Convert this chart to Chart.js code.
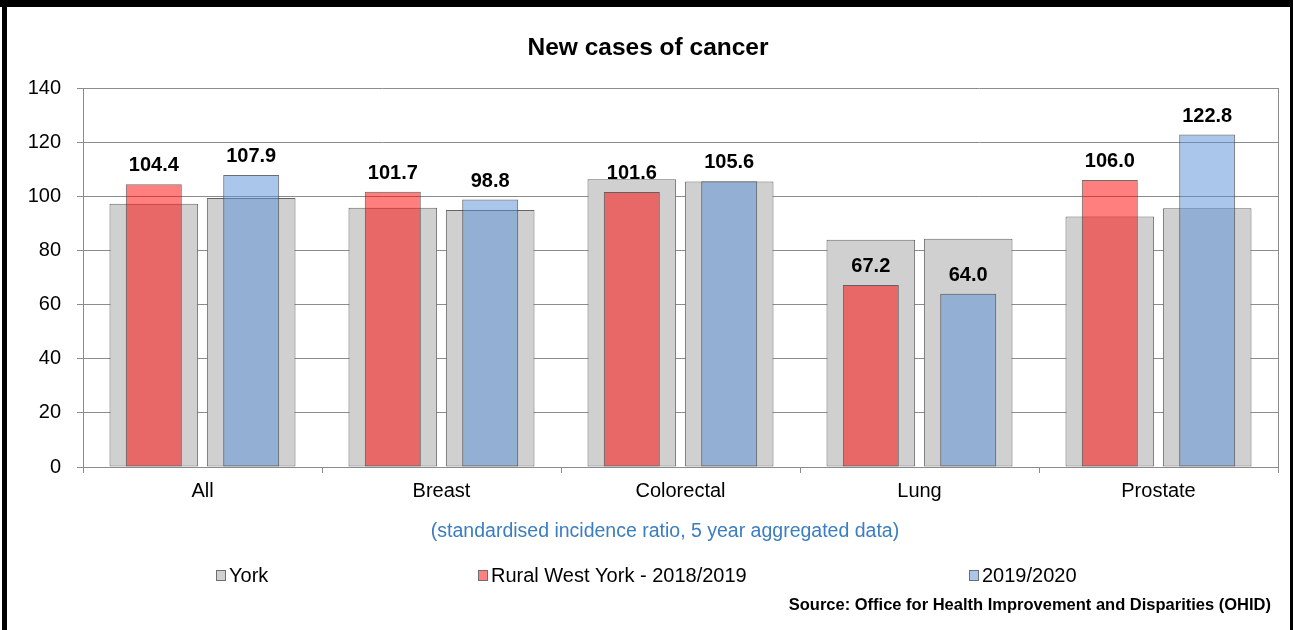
<!DOCTYPE html>
<html>
<head>
<meta charset="utf-8">
<script src="https://cdn.jsdelivr.net/npm/chart.js@4/dist/chart.umd.min.js"></script>
<style>
  html, body { margin: 0; padding: 0; background: #fff; }
  #wrap { position: relative; width: 1293px; height: 630px; }
</style>
</head>
<body>
<div id="wrap"><canvas id="c" width="1293" height="630" style="width:1293px;height:630px"></canvas></div>
<script>
// Cancer incidence: standardised incidence ratios, 5 year aggregated data
const categories = ['All', 'Breast', 'Colorectal', 'Lung', 'Prostate'];
const york2018 = [97.2, 95.8, 106.3, 83.9, 92.5];
const york2019 = [99.4, 94.9, 105.5, 84.3, 95.6];
const ruralWest2018 = [104.4, 101.7, 101.6, 67.2, 106.0];
const ruralWest2019 = [107.9, 98.8, 105.6, 64.0, 122.8];
const yTicks = [0, 20, 40, 60, 80, 100, 120, 140];

const legendLabels = ['York', 'Rural West York - 2018/2019', '2019/2020'];
const titleText = 'New cases of cancer';
const subtitleText = '(standardised incidence ratio, 5 year aggregated data)';
const sourceText = 'Source: Office for Health Improvement and Disparities (OHID)';

const FONT = '"Liberation Sans", Arial, sans-serif';
const GRID = '#8c8c8c';
const GREY_FILL = '#d0d0d0';
const GREY_EDGE = '#666666';
const RED_FILL = 'rgba(255,0,0,0.5)';
const BLUE_FILL = 'rgba(85,142,213,0.5)';
const BAR_EDGE = 'rgba(60,60,60,0.75)';

// Frame, titles, custom legend, source note and value labels
const decorations = {
  id: 'decorations',
  afterDatasetsDraw(chart) {
    const ctx = chart.ctx;
    const area = chart.chartArea;
    ctx.save();
    // plot area outline (right edge)
    ctx.strokeStyle = GRID;
    ctx.lineWidth = 1;
    ctx.beginPath();
    ctx.moveTo(Math.round(area.right) + 0.5, area.top);
    ctx.lineTo(Math.round(area.right) + 0.5, area.bottom);
    ctx.stroke();

    // value labels above the Rural West York bars
    ctx.fillStyle = '#000';
    ctx.font = 'bold 20px ' + FONT;
    ctx.textAlign = 'center';
    ctx.textBaseline = 'alphabetic';
    [2, 3].forEach(di => {
      const meta = chart.getDatasetMeta(di);
      const vals = chart.data.datasets[di].data;
      meta.data.forEach((bar, i) => {
        ctx.fillText(vals[i].toFixed(1), bar.x, bar.y - 13);
      });
    });
    ctx.restore();
  },
  afterDraw(chart) {
    const ctx = chart.ctx;
    ctx.save();
    // outer frame
    ctx.fillStyle = '#000';
    ctx.fillRect(0, 0, 1293, 7);
    ctx.fillRect(2, 0, 5, 630);
    ctx.fillRect(1290, 0, 3, 630);

    // title
    ctx.fillStyle = '#000';
    ctx.textAlign = 'center';
    ctx.textBaseline = 'middle';
    ctx.font = 'bold 24.5px ' + FONT;
    ctx.fillText(titleText, 648, 48);

    // axis description
    ctx.fillStyle = '#3a7dc0';
    ctx.font = '19.5px ' + FONT;
    ctx.fillText(subtitleText, 665, 532);

    // legend
    const legendX = [216, 478, 969];
    const swatch = [GREY_FILL, '#ff8080', '#aac6ea'];
    ctx.font = '20px ' + FONT;
    ctx.textAlign = 'left';
    legendLabels.forEach((t, i) => {
      ctx.fillStyle = swatch[i];
      ctx.fillRect(legendX[i] + 0.5, 570.5, 9, 10);
      ctx.strokeStyle = '#6e6e6e';
      ctx.lineWidth = 1;
      ctx.strokeRect(legendX[i] + 0.5, 570.5, 9, 10);
      ctx.fillStyle = '#000';
      ctx.fillText(t, legendX[i] + 13, 576);
    });

    // source note
    ctx.textAlign = 'right';
    ctx.font = 'bold 16.5px ' + FONT;
    ctx.fillText(sourceText, 1271, 605);
    ctx.restore();
  }
};

new Chart(document.getElementById('c'), {
  type: 'bar',
  data: {
    labels: categories,
    datasets: [
      { label: 'York 2018/2019', data: york2018, stack: 'p1', order: 2,
        backgroundColor: GREY_FILL, borderColor: GREY_EDGE, borderWidth: 1, borderSkipped: false, barPercentage: 0.91 },
      { label: 'York 2019/2020', data: york2019, stack: 'p2', order: 2,
        backgroundColor: GREY_FILL, borderColor: GREY_EDGE, borderWidth: 1, borderSkipped: false, barPercentage: 0.91 },
      { label: legendLabels[1], data: ruralWest2018, stack: 'p1', order: 1,
        backgroundColor: RED_FILL, borderColor: BAR_EDGE, borderWidth: 1, borderSkipped: false, barPercentage: 0.575 },
      { label: legendLabels[2], data: ruralWest2019, stack: 'p2', order: 1,
        backgroundColor: BLUE_FILL, borderColor: BAR_EDGE, borderWidth: 1, borderSkipped: false, barPercentage: 0.575 }
    ]
  },
  options: {
    responsive: false,
    animation: false,
    devicePixelRatio: 1,
    layout: { padding: { left: 0, right: 15, top: 88, bottom: 0 } },
    datasets: { bar: { categoryPercentage: 0.815 } },
    plugins: {
      legend: { display: false },
      title: { display: false },
      tooltip: { enabled: false }
    },
    scales: {
      x: {
        grid: { display: true, drawOnChartArea: false, drawTicks: true, tickLength: 6, color: GRID, offset: true },
        border: { display: true, color: GRID },
        ticks: { color: '#000', font: { family: FONT, size: 20 }, padding: 6, maxRotation: 0 },
        afterFit(scale) { scale.height = 163; }
      },
      y: {
        stacked: false,
        min: 0, max: 140,
        afterBuildTicks(scale) { scale.ticks = yTicks.map(v => ({ value: v })); },
        grid: { color: GRID, tickLength: 6, drawTicks: true },
        border: { display: true, color: GRID },
        ticks: { color: '#000', font: { family: FONT, size: 20 }, padding: 16 },
        afterFit(scale) { scale.width = 83; }
      }
    }
  },
  plugins: [decorations]
});
</script>
</body>
</html>
